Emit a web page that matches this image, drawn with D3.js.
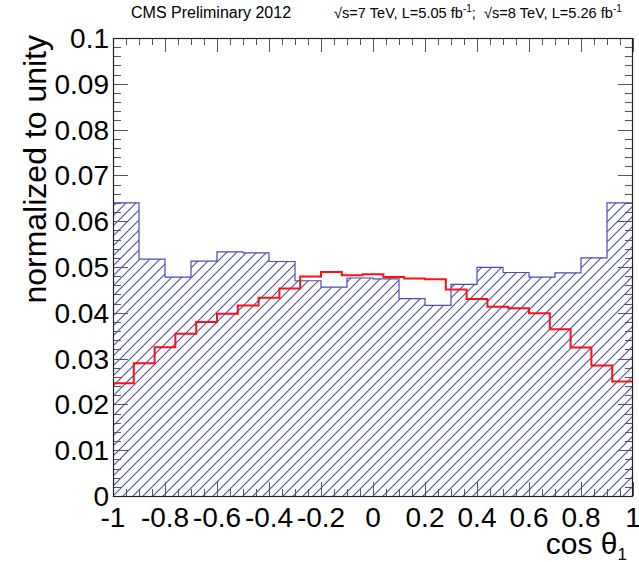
<!DOCTYPE html>
<html>
<head>
<meta charset="utf-8">
<script src="https://cdn.jsdelivr.net/npm/d3@7"></script>
<style>
  html, body { margin: 0; padding: 0; background: #fff; }
  svg { display: block; font-family: "Liberation Sans", Arial, sans-serif; }
</style>
</head>
<body>
<svg id="chart" width="639" height="562"></svg>
<script>
// ---- data ----
// blue hatched histogram: 20 bins of width 0.1 from -1 to 1
const blueEdges = [-1, -0.9, -0.8, -0.7, -0.6, -0.5, -0.4, -0.3, -0.2, -0.1, 0, 0.1, 0.2, 0.3, 0.4, 0.5, 0.6, 0.7, 0.8, 0.9, 1];
const blueValues = [0.0640, 0.0517, 0.0478, 0.0513, 0.0533, 0.0531, 0.0512, 0.0470, 0.0456, 0.0476,
                    0.0474, 0.0431, 0.0416, 0.0462, 0.0499, 0.0488, 0.0478, 0.0487, 0.0520, 0.0640];
// red line histogram: 25 bins of width 0.08 from -1 to 1
const redEdges = [-1, -0.92, -0.84, -0.76, -0.68, -0.6, -0.52, -0.44, -0.36, -0.28, -0.2, -0.12, -0.04,
                  0.04, 0.12, 0.2, 0.28, 0.36, 0.44, 0.52, 0.6, 0.68, 0.76, 0.84, 0.92, 1];
const redValues = [0.0246, 0.0290, 0.0325, 0.0354, 0.0380, 0.0398, 0.0416, 0.0433, 0.0453, 0.0479,
                   0.0489, 0.0482, 0.0484, 0.0478, 0.0475, 0.0473, 0.0451, 0.0430, 0.0413, 0.0410,
                   0.0399, 0.0364, 0.0324, 0.0285, 0.0250];
const xTickValues = [-1, -0.8, -0.6, -0.4, -0.2, 0, 0.2, 0.4, 0.6, 0.8, 1];
const xTickLabels = ["-1", "-0.8", "-0.6", "-0.4", "-0.2", "0", "0.2", "0.4", "0.6", "0.8", "1"];
const yTickValues = [0, 0.01, 0.02, 0.03, 0.04, 0.05, 0.06, 0.07, 0.08, 0.09, 0.1];
const yTickLabels = ["0", "0.01", "0.02", "0.03", "0.04", "0.05", "0.06", "0.07", "0.08", "0.09", "0.1"];
const yTitle = "normalized to unity";
const headerLeft = "CMS Preliminary 2012";

// ---- layout ----
const L = 113, R = 633, T = 38, B = 496;
const svg = d3.select("#chart");
const x = d3.scaleLinear().domain([-1, 1]).range([L, R]);
const y = d3.scaleLinear().domain([0, 0.1]).range([B, T]);

// hatch pattern
const defs = svg.append("defs");
const pat = defs.append("pattern")
  .attr("id", "hatch").attr("patternUnits", "userSpaceOnUse")
  .attr("width", 10).attr("height", 10)
  .attr("x", L).attr("y", B);
pat.append("path")
  .attr("d", "M-1,11 L11,-1 M-6,6 L6,-6 M4,16 L16,4")
  .attr("stroke", "#4848c0").attr("stroke-width", 1.1).attr("fill", "none");

const clip = defs.append("clipPath").attr("id", "plotclip");
clip.append("rect").attr("x", L).attr("y", T).attr("width", R - L).attr("height", B - T);

// step points
function stepPoints(edges, vals, closeToZero) {
  const pts = [];
  if (closeToZero) pts.push([edges[0], 0]);
  vals.forEach((v, i) => { pts.push([edges[i], v]); pts.push([edges[i + 1], v]); });
  if (closeToZero) pts.push([edges[edges.length - 1], 0]);
  return pts;
}
const line = d3.line().x(d => x(d[0])).y(d => y(d[1]));

const g = svg.append("g").attr("clip-path", "url(#plotclip)");
const bluePts = stepPoints(blueEdges, blueValues, true);
g.append("path").attr("d", line(bluePts) + "Z")
  .attr("fill", "url(#hatch)").attr("stroke", "none");
g.append("path").attr("d", line(bluePts))
  .attr("fill", "none").attr("stroke", "#4a4ab8").attr("stroke-width", 1.2);
g.append("path").attr("d", line(stepPoints(redEdges, redValues, false)))
  .attr("fill", "none").attr("stroke", "#ff1010").attr("stroke-width", 2);

// ticks
const tickColor = "#555";
const xMinor = d3.range(-1, 1.0001, 0.05).map(v => +v.toFixed(2));
const yMinor = d3.range(0, 0.1001, 0.002).map(v => +v.toFixed(3));
const isXMajor = v => xTickValues.some(t => Math.abs(t - v) < 1e-6);
const isYMajor = v => yTickValues.some(t => Math.abs(t - v) < 1e-6);
const tg = svg.append("g").attr("stroke", tickColor).attr("stroke-width", 1);
xMinor.forEach(v => {
  const len = isXMajor(v) ? 14 : 7;
  const px = Math.round(x(v)) + 0.5;
  tg.append("line").attr("x1", px).attr("x2", px).attr("y1", B).attr("y2", B - len);
  tg.append("line").attr("x1", px).attr("x2", px).attr("y1", T).attr("y2", T + len);
});
yMinor.forEach(v => {
  const len = isYMajor(v) ? 15 : 8;
  const py = Math.round(y(v)) + 0.5;
  tg.append("line").attr("x1", L).attr("x2", L + len).attr("y1", py).attr("y2", py);
  tg.append("line").attr("x1", R).attr("x2", R - len).attr("y1", py).attr("y2", py);
});

// frame
svg.append("rect").attr("x", L + 0.5).attr("y", T + 0.5)
  .attr("width", R - L - 1).attr("height", B - T)
  .attr("fill", "none").attr("stroke", "#222").attr("stroke-width", 1.2);

// tick labels
svg.append("g").selectAll("text").data(yTickValues).join("text")
  .attr("x", 109).attr("y", d => y(d) + 10)
  .attr("text-anchor", "end").attr("font-size", 28).attr("fill", "#000")
  .text((d, i) => yTickLabels[i]);
svg.append("g").selectAll("text").data(xTickValues).join("text")
  .attr("x", d => x(d)).attr("y", 527)
  .attr("text-anchor", "middle").attr("font-size", 28).attr("fill", "#000")
  .text((d, i) => xTickLabels[i]);

// axis titles
svg.append("text")
  .attr("transform", `translate(46,${T - 3}) rotate(-90)`)
  .attr("text-anchor", "end").attr("font-size", 32).attr("fill", "#000")
  .text(yTitle);
const xt = svg.append("text").attr("x", 627).attr("y", 554)
  .attr("text-anchor", "end").attr("font-size", 30).attr("fill", "#000");
xt.append("tspan").text("cos θ");
xt.append("tspan").attr("font-size", 17).attr("dy", 6).text("1");

// header
svg.append("text").attr("x", 131).attr("y", 18)
  .attr("font-size", 16).attr("fill", "#000").text(headerLeft);
const hr = svg.append("text").attr("x", 334).attr("y", 18)
  .attr("font-size", 14.6).attr("fill", "#000");
hr.append("tspan").text("√s=7 TeV, L=5.05 fb");
hr.append("tspan").attr("font-size", 10).attr("dy", -6).text("-1");
hr.append("tspan").attr("dy", 6).attr("xml:space", "preserve").text(";  √s=8 TeV, L=5.26 fb");
hr.append("tspan").attr("font-size", 10).attr("dy", -6).text("-1");
</script>
</body>
</html>
